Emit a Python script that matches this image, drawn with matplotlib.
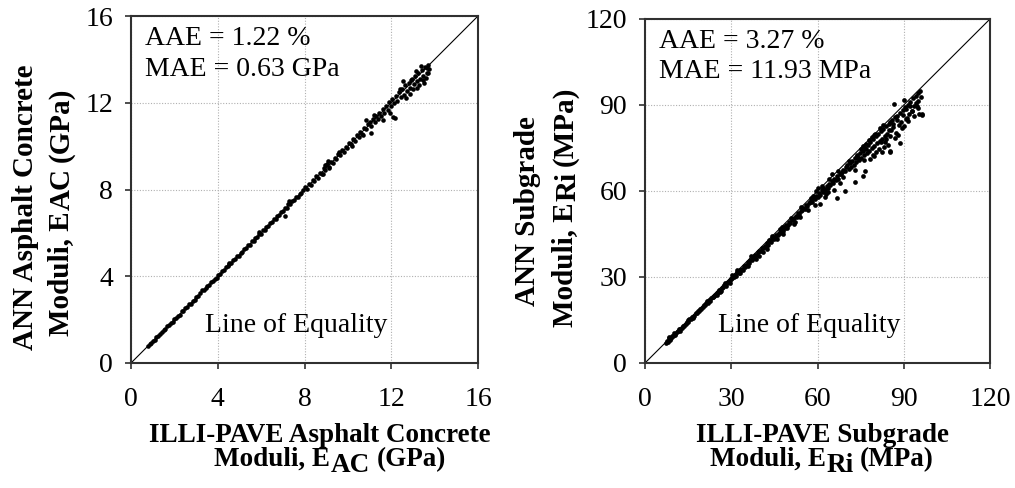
import matplotlib
matplotlib.use("Agg")
import matplotlib.pyplot as plt

plt.rcParams['font.family'] = ['Liberation Serif', 'DejaVu Serif']

# Asphalt concrete moduli (GPa): ILLI-PAVE solution vs ANN prediction
ac_illipave = [
    0.78, 0.86, 0.94, 1.01, 1.09, 1.17, 1.26, 1.33, 1.42, 1.50,
    1.58, 1.67, 1.75, 1.83, 1.92, 2.00, 2.08, 2.17, 2.25, 2.34,
    2.42, 2.50, 2.59, 2.67, 2.76, 2.84, 2.93, 3.01, 3.10, 3.18,
    3.27, 3.35, 3.44, 3.52, 3.61, 3.69, 3.78, 3.86, 3.95, 4.03,
    4.12, 4.20, 4.29, 4.37, 4.46, 4.54, 4.63, 4.71, 4.80, 4.88,
    4.97, 5.05, 5.14, 5.22, 5.31, 5.39, 5.48, 5.56, 5.65, 5.73,
    5.82, 5.90, 5.99, 6.07, 6.16, 6.24, 6.33, 6.41, 6.50, 6.58,
    6.67, 6.75, 6.84, 6.92, 7.01, 7.09, 7.18, 7.26, 7.35, 7.43,
    7.52, 7.60, 7.69, 7.77, 7.86, 7.94, 4.50, 5.90, 7.10, 7.30,
    8.03, 8.11, 8.20, 8.28, 8.37, 8.45, 8.54, 8.62, 8.71, 8.79,
    8.88, 8.96, 9.05, 9.13, 9.22, 9.30, 9.39, 9.47, 9.56, 9.64,
    9.73, 9.81, 9.90, 9.98, 10.07, 10.15, 10.24, 10.32, 10.41, 10.49,
    10.58, 10.66, 10.75, 10.83, 10.92, 8.85, 9.10, 9.60, 10.20, 10.70,
    8.95, 9.15, 11.00, 11.08, 11.15, 11.23, 11.30, 11.38, 11.45, 11.53,
    11.60, 11.68, 11.75, 11.83, 11.90, 11.98, 12.05, 12.13, 12.20, 12.28,
    12.35, 12.43, 12.50, 12.58, 12.65, 12.73, 12.80, 12.88, 12.95, 13.03,
    13.10, 13.18, 13.25, 13.33, 13.40, 13.48, 13.55, 13.63, 13.70, 13.76,
    11.20, 11.60, 11.95, 12.10, 12.40, 12.55, 12.70, 12.90, 13.00, 13.15,
    13.30, 13.45, 13.60, 13.70, 10.85, 11.05, 12.15, 13.35, 13.50, 12.85,
    13.65, 13.20,
]
ac_ann = [
    0.77, 0.88, 0.93, 1.03, 1.07, 1.20, 1.24, 1.35, 1.41, 1.53,
    1.56, 1.70, 1.74, 1.86, 1.90, 2.03, 2.06, 2.19, 2.23, 2.38,
    2.40, 2.54, 2.57, 2.71, 2.74, 2.87, 2.91, 3.05, 3.08, 3.21,
    3.36, 3.37, 3.47, 3.55, 3.59, 3.73, 3.76, 3.89, 3.93, 4.07,
    4.11, 4.24, 4.28, 4.41, 4.45, 4.58, 4.61, 4.75, 4.79, 4.93,
    4.95, 5.09, 5.12, 5.26, 5.29, 5.43, 5.45, 5.61, 5.62, 5.77,
    5.80, 5.94, 5.97, 6.11, 6.14, 6.28, 6.31, 6.45, 6.48, 6.62,
    6.65, 6.79, 6.82, 6.96, 6.99, 7.13, 7.16, 7.31, 7.33, 7.47,
    7.50, 7.64, 7.67, 7.81, 7.84, 7.98, 4.62, 6.02, 6.80, 7.48,
    8.10, 8.04, 8.26, 8.22, 8.43, 8.37, 8.61, 8.55, 8.78, 8.71,
    8.99, 8.90, 9.16, 9.05, 9.29, 9.21, 9.47, 9.40, 9.63, 9.57,
    9.80, 9.74, 9.97, 9.91, 10.14, 10.08, 10.31, 10.25, 10.49, 10.41,
    10.66, 10.58, 10.83, 10.77, 11.01, 8.72, 9.32, 9.75, 10.02, 10.52,
    9.15, 8.98, 11.10, 10.92, 11.27, 11.12, 11.40, 11.24, 11.55, 11.37,
    11.71, 11.52, 11.86, 11.66, 12.02, 11.83, 12.19, 11.97, 12.33, 12.10,
    12.49, 12.26, 12.63, 12.38, 12.80, 12.52, 12.93, 12.66, 13.10, 12.85,
    13.24, 12.98, 13.38, 13.10, 13.52, 13.25, 13.63, 13.36, 13.75, 13.55,
    11.45, 11.20, 11.55, 11.35, 12.65, 13.00, 12.20, 13.05, 12.65, 13.45,
    12.80, 13.05, 13.15, 13.35, 11.20, 10.60, 11.30, 13.70, 12.90, 12.40,
    13.60, 12.70,
]

# Subgrade moduli (MPa): ILLI-PAVE solution vs ANN prediction
ri_illipave = [
    7.2, 7.6, 8.0, 8.3, 8.7, 9.1, 9.4, 9.9, 10.3, 10.6,
    11.0, 11.5, 11.9, 12.3, 12.8, 13.2, 13.6, 14.1, 14.5, 15.0,
    15.4, 15.9, 16.3, 16.8, 17.2, 17.7, 18.1, 18.6, 19.0, 19.5,
    8.5, 10.0, 12.0, 14.8, 16.6, 18.9,
    20.0, 20.4, 20.9, 21.3, 21.8, 22.2, 22.7, 23.1, 23.6, 24.0,
    24.5, 24.9, 25.4, 25.8, 26.3, 26.7, 27.2, 27.6, 28.1, 28.5,
    29.0, 29.4, 29.9, 30.3, 30.8, 31.2, 31.7, 32.1, 32.6, 33.0,
    33.5, 33.9, 34.4, 34.8, 35.3, 35.7, 36.2, 36.6, 37.1, 37.5,
    38.0, 38.4, 38.9, 39.3, 39.8,
    21.5, 23.8, 25.1, 27.9, 30.1, 31.9, 33.2, 34.1, 35.9, 36.9,
    38.6, 39.5, 26.0, 29.6,
    40.2, 40.7, 41.1, 41.6, 42.0, 42.5, 42.9, 43.4, 43.8, 44.3,
    44.7, 45.2, 45.6, 46.1, 46.5, 47.0, 47.4, 47.9, 48.3, 48.8,
    49.2, 49.7, 50.1, 50.6, 51.0, 51.5, 51.9, 52.4, 52.8, 53.3,
    53.7, 54.2, 54.6,
    41.0, 43.1, 44.0, 45.8, 46.9, 48.0, 49.5, 50.8, 52.0, 53.9,
    54.4, 42.3, 47.6, 51.7,
    55.1, 55.5, 56.0, 56.4, 56.9, 57.3, 57.8, 58.2, 58.7, 59.1,
    59.6, 60.0, 60.5, 60.9, 61.4, 61.8, 62.3, 62.7, 63.2, 63.6,
    64.1, 64.5, 65.0, 65.4, 65.9, 66.3, 66.8, 67.2, 67.7, 68.1,
    68.6, 69.0, 69.5, 69.9,
    56.8, 57.9, 59.0, 60.2, 61.0, 62.0, 63.0, 64.0, 65.6, 66.9,
    67.8, 68.9, 69.4, 58.5, 61.5, 63.8, 65.2, 67.0, 59.6, 62.6,
    70.3, 70.8, 71.2, 71.7, 72.1, 72.6, 73.0, 73.5, 73.9, 74.4,
    74.8, 75.3, 75.7, 76.2, 76.6, 77.1, 77.5, 78.0, 78.4, 78.9,
    79.3, 79.8, 80.2, 80.7, 81.1, 81.6, 82.0, 82.5, 82.9, 83.4,
    83.8, 84.3, 84.7,
    71.0, 72.9, 74.0, 75.0, 76.2, 77.0, 78.3, 79.2, 80.1, 81.3,
    82.2, 83.0, 84.0, 84.8, 73.6, 75.9, 77.8, 79.7, 81.9, 83.6,
    80.5, 76.8, 78.8, 82.7, 84.5,
    73.0, 75.8, 76.5, 79.6, 82.4, 85.2,
    85.1, 85.5, 86.0, 86.4, 86.9, 87.3, 87.8, 88.2, 88.7, 89.1,
    89.6, 90.0, 90.5, 90.9, 91.4, 91.8, 92.3, 92.7, 93.2, 93.6,
    94.1, 94.5, 95.0, 95.4, 95.9, 96.2,
    85.3, 86.7, 87.0, 88.7, 85.2, 89.4, 90.8, 91.6, 92.9, 94.2,
    95.6, 96.3, 87.5, 89.9, 91.0, 93.4, 86.2, 88.0, 90.2, 92.1,
    94.8, 95.0,
]
ri_ann = [
    6.9, 7.8, 7.4, 8.6, 8.1, 8.8, 9.3, 9.5, 10.1, 9.9,
    10.8, 11.0, 11.7, 11.9, 12.3, 13.0, 12.8, 13.7, 14.2, 14.4,
    15.2, 15.3, 16.0, 16.2, 16.5, 17.4, 17.6, 18.0, 18.8, 18.7,
    9.1, 10.4, 11.3, 14.9, 15.7, 18.2,
    19.6, 20.2, 20.1, 21.0, 21.1, 21.9, 21.8, 22.6, 22.9, 23.5,
    23.6, 24.5, 24.6, 25.4, 25.2, 26.3, 26.4, 27.2, 26.9, 28.0,
    28.1, 28.9, 29.2, 29.5, 30.0, 30.7, 30.4, 31.6, 31.3, 32.3,
    32.5, 32.9, 33.7, 33.6, 34.3, 35.1, 34.9, 35.9, 35.8, 36.6,
    37.0, 37.8, 37.6, 38.6, 38.9,
    21.6, 23.0, 23.8, 27.8, 30.6, 32.6, 31.4, 32.5, 33.9, 37.5,
    36.4, 37.2, 24.9, 27.9,
    39.0, 40.1, 40.0, 40.9, 40.4, 41.7, 41.3, 42.6, 42.2, 43.3,
    43.2, 44.1, 44.5, 44.8, 45.5, 45.3, 46.4, 46.2, 47.3, 47.0,
    48.0, 48.3, 49.1, 48.8, 49.9, 50.2, 50.6, 51.3, 51.0, 52.2,
    52.0, 52.9, 53.5,
    38.6, 43.0, 44.3, 43.4, 46.8, 44.9, 47.1, 50.6, 49.3, 51.0,
    54.3, 39.7, 47.5, 48.5,
    54.2, 53.6, 55.2, 54.9, 55.8, 56.0, 56.6, 56.1, 57.6, 57.2,
    58.4, 58.0, 59.3, 58.6, 60.2, 59.6, 60.8, 60.5, 61.9, 61.0,
    62.6, 62.0, 63.4, 62.9, 64.3, 63.7, 65.1, 64.2, 66.0, 65.8,
    66.8, 67.4, 67.0, 68.3,
    53.2, 57.6, 55.1, 61.0, 55.3, 60.9, 58.8, 64.2, 60.4, 57.5,
    62.9, 65.0, 60.0, 58.3, 61.6, 59.7, 66.0, 67.1, 60.0, 57.8,
    68.9, 67.6, 69.7, 68.5, 70.6, 69.2, 71.4, 70.0, 72.3, 70.8,
    73.2, 71.5, 74.0, 72.7, 75.1, 73.3, 76.0, 74.1, 77.2, 75.0,
    78.0, 75.8, 79.1, 76.9, 79.8, 77.6, 80.9, 78.3, 81.8, 79.2,
    82.6, 80.0, 83.5,
    70.3, 67.2, 71.5, 74.6, 70.9, 76.3, 71.0, 72.6, 80.0, 74.7,
    77.0, 75.3, 78.1, 81.3, 72.7, 75.6, 77.8, 79.5, 82.0, 77.2,
    73.6, 74.7, 78.7, 83.0, 76.0,
    63.1, 65.4, 67.1, 72.3, 73.7, 73.7,
    83.9, 81.2, 84.6, 82.5, 85.7, 80.3, 86.2, 83.0, 87.3, 84.1,
    88.2, 82.6, 89.4, 85.0, 90.1, 86.7, 91.2, 88.0, 92.5, 86.3,
    93.0, 89.5, 94.2, 87.0, 92.8, 86.5,
    74.1, 90.4, 78.5, 76.9, 79.3, 82.0, 88.6, 84.3, 88.0, 90.7,
    95.0, 87.0, 84.8, 86.4, 85.6, 89.7, 83.3, 79.6, 91.7, 89.6,
    91.5, 88.8,
]

ac_ticks = [0, 4, 8, 12, 16]
ri_ticks = [0, 30, 60, 90, 120]
ac_stats = ["AAE = 1.22 %", "MAE = 0.63 GPa"]
ri_stats = ["AAE = 3.27 %", "MAE = 11.93 MPa"]

W, H = 1015, 488
fig = plt.figure(figsize=(W / 100, H / 100), dpi=100)
ax1 = fig.add_axes([131 / W, 125 / H, 347 / W, 347 / H])
ax2 = fig.add_axes([645 / W, 125 / H, 345 / W, 344 / H])


def setup(ax, ticks, stats):
    top = ticks[-1]
    ax.set_xlim(0, top)
    ax.set_ylim(0, top)
    ax.set_xticks(ticks)
    ax.set_yticks(ticks)
    ax.grid(True, linestyle=(0, (1, 1.5)), color='#b0b0b0', linewidth=0.8)
    ax.set_axisbelow(True)
    ax.plot([0, top], [0, top], color='black', lw=0.8, zorder=2)
    for s in ax.spines.values():
        s.set_linewidth(1.5)
        s.set_color('#303030')
    ax.tick_params(direction='out', length=4, width=1.2, color='#303030',
                   labelsize=20)
    ax.tick_params(axis='x', pad=13)
    ax.tick_params(axis='y', pad=9)
    ax.text(0.040, 0.916, stats[0], transform=ax.transAxes, fontsize=20)
    ax.text(0.040, 0.828, stats[1], transform=ax.transAxes, fontsize=20)
    ax.text(0.213, 0.089, "Line of Equality", transform=ax.transAxes,
            fontsize=20)


setup(ax1, ac_ticks, ac_stats)
setup(ax2, ri_ticks, ri_stats)
ax1.plot(ac_illipave, ac_ann, 'o', color='black', ms=3.3, mew=0, zorder=3)
ax2.plot(ri_illipave, ri_ann, 'o', color='black', ms=3.4, mew=0, zorder=3)


def label_line(pieces, cx, cy, size, vertical=False):
    # pieces: (text, drop below baseline in px, gap before in px)
    arts = [fig.text(0, 0, p[0], fontsize=size, fontweight='bold',
                     rotation=90 if vertical else 0, rotation_mode='anchor',
                     ha='left', va='baseline') for p in pieces]
    fig.canvas.draw()
    r = fig.canvas.get_renderer()
    lengths = []
    for t in arts:
        bb = t.get_window_extent(r)
        lengths.append(bb.height if vertical else bb.width)
    total = sum(lengths) + sum(p[2] for p in pieces)
    run = -total / 2
    for t, p, length in zip(arts, pieces, lengths):
        run += p[2]
        if vertical:
            t.set_position(((cx + p[1]) / W, (H - cy + run) / H))
        else:
            t.set_position(((cx + run) / W, (H - cy - p[1]) / H))
        run += length


label_line([("ILLI-PAVE Asphalt Concrete", 0, 0)], 320, 442, 19.5)
label_line([("Moduli, E", 0, 0), ("AC", 6, 1), ("(GPa)", 0, 6)],
           330, 466, 19.5)
label_line([("ILLI-PAVE Subgrade", 0, 0)], 823, 442, 19.5)
label_line([("Moduli, E", 0, 0), ("Ri", 6, 1), ("(MPa)", 0, 6)],
           822, 466, 19.5)

label_line([("ANN Asphalt Concrete", 0, 0)], 33, 207, 21, vertical=True)
label_line([("Moduli, E", 0, 0), ("AC", 2, 1), ("(GPa)", 0, 6)],
           68, 212, 21, vertical=True)
label_line([("ANN Subgrade", 0, 0)], 535, 211, 21, vertical=True)
label_line([("Moduli, E", 0, 0), ("Ri", 4, 1), ("(MPa)", 0, 6)],
           572, 207, 21, vertical=True)

fig.savefig("out.png", dpi=100)
